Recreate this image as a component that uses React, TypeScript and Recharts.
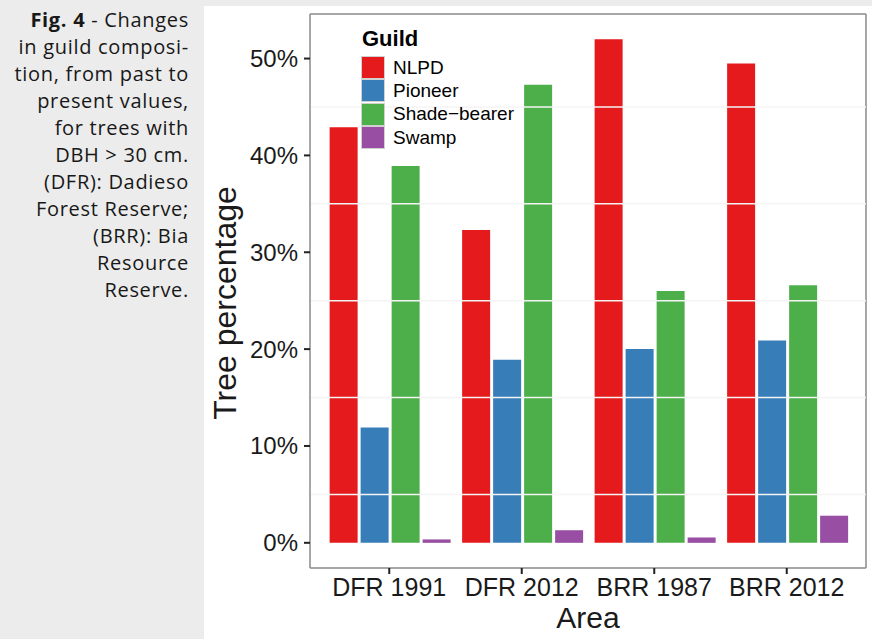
import React from 'react';
import { BarChart, Bar, XAxis, YAxis, ReferenceLine, CartesianGrid } from 'recharts';

// values (percent of trees, DBH > 30 cm)
const areas = ['DFR 1991', 'DFR 2012', 'BRR 1987', 'BRR 2012'];
const nlpd = [42.9, 32.3, 52.0, 49.5];
const pioneer = [11.9, 18.9, 20.0, 20.9];
const shadeBearer = [38.9, 47.3, 26.0, 26.6];
const swamp = [0.35, 1.3, 0.55, 2.8];

const yTicks = [0, 10, 20, 30, 40, 50];
const minorGrid = [5, 15, 25, 35, 45];

const captionLines = [
  'in guild composi-',
  'tion, from past to',
  'present values,',
  'for trees with',
  'DBH > 30 cm.',
  '(DFR): Dadieso',
  'Forest Reserve;',
  '(BRR): Bia',
  'Resource',
  'Reserve.',
];

const guilds = [
  { key: 'nlpd', name: 'NLPD', color: '#E41A1C' },
  { key: 'pioneer', name: 'Pioneer', color: '#377EB8' },
  { key: 'shade', name: 'Shade\u2212bearer', color: '#4DAF4A' },
  { key: 'swamp', name: 'Swamp', color: '#984EA3' },
];

const data = areas.map((area, i) => ({
  area,
  nlpd: nlpd[i],
  pioneer: pioneer[i],
  shade: shadeBearer[i],
  swamp: swamp[i],
}));

// ggplot-style 5% expansion around 0..max
const Y_MIN = -2.6;
const Y_MAX = 54.6;

const font = 'Arial, "Liberation Sans", sans-serif';
const ink = '#1a1a1a';
const frame = { stroke: '#8a8a8a', strokeWidth: 1.5 };

const GuildLegend = () => (
  <div style={{ fontFamily: font, color: '#000' }}>
    <div style={{ fontWeight: 'bold', fontSize: 22, lineHeight: '26px', marginBottom: 4, marginLeft: 1 }}>Guild</div>
    {guilds.map((g) => (
      <div key={g.key} style={{ display: 'flex', alignItems: 'center', height: 23.3 }}>
        <div style={{ width: 22, height: 21, background: g.color, border: '1px solid #d0d0d0' }} />
        <span style={{ fontSize: 19, marginLeft: 8 }}>{g.name}</span>
      </div>
    ))}
  </div>
);

const App: React.FC = () => {
  return (
    <div style={{ position: 'absolute', left: 0, top: 0, width: 872, height: 639, background: '#ececec', overflow: 'hidden' }}>
      <div
        style={{
          position: 'absolute',
          left: 0,
          top: 6,
          width: 189,
          textAlign: 'right',
          fontFamily: '"Open Sans", Lato, sans-serif',
          fontSize: 20,
          letterSpacing: 0.7,
          lineHeight: '27px',
          color: '#181818',
          whiteSpace: 'nowrap',
        }}
      >
        <div>
          <b>Fig. 4</b> - Changes
        </div>
        {captionLines.map((l) => (
          <div key={l}>{l}</div>
        ))}
      </div>

      <div style={{ position: 'absolute', left: 204, top: 6, width: 668, height: 633, background: '#fff' }}>
        <BarChart
          width={668}
          height={633}
          data={data}
          margin={{ top: 8, right: 6, left: 0, bottom: 0 }}
          barCategoryGap="5%"
          barGap={3}
        >
          {minorGrid.map((v) => (
            <ReferenceLine key={v} y={v} stroke="#f4f4f4" strokeWidth={1.5} />
          ))}
          {/* top and right edges of the panel frame */}
          <CartesianGrid
            stroke="#8a8a8a"
            strokeWidth={1.5}
            horizontalCoordinatesGenerator={({ offset }: any) => [offset.top]}
            verticalCoordinatesGenerator={({ offset }: any) => [offset.left + offset.width]}
          />
          <XAxis
            dataKey="area"
            interval={0}
            padding={{ left: 13, right: 13 }}
            axisLine={frame}
            tickLine={{ stroke: '#222', strokeWidth: 2 }}
            tickSize={6}
            tickMargin={4}
            height={71}
            tick={{ fontSize: 25, fill: ink, fontFamily: font }}
            label={({ viewBox }: any) => (
              <text x={viewBox.x + viewBox.width / 2} y={622} textAnchor="middle" fontSize={30} fill={ink} fontFamily={font}>
                Area
              </text>
            )}
          />
          <YAxis
            type="number"
            domain={[Y_MIN, Y_MAX]}
            allowDataOverflow
            ticks={yTicks}
            tickFormatter={(v: number) => `${v}%`}
            axisLine={frame}
            tickLine={{ stroke: '#222', strokeWidth: 2 }}
            tickSize={6}
            tickMargin={6}
            width={106}
            tick={{ fontSize: 24, fill: ink, fontFamily: font }}
            label={({ viewBox }: any) => (
              <text
                x={32}
                y={viewBox.y + viewBox.height / 2 + 12}
                transform={`rotate(-90, 32, ${viewBox.y + viewBox.height / 2 + 12})`}
                textAnchor="middle"
                fontSize={32}
                fill={ink}
                fontFamily={font}
              >
                Tree percentage
              </text>
            )}
          />
          {guilds.map((g) => (
            <Bar key={g.key} dataKey={g.key} name={g.name} fill={g.color} isAnimationActive={false} />
          ))}
        </BarChart>
        <div style={{ position: 'absolute', left: 157, top: 20 }}>
          <GuildLegend />
        </div>
      </div>
    </div>
  );
};

export default App;
